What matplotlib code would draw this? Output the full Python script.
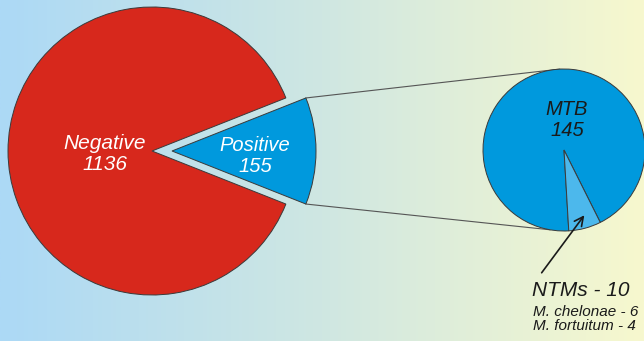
import numpy as np
import matplotlib
matplotlib.use("Agg")
from matplotlib import pyplot as plt
from matplotlib.colors import LinearSegmentedColormap

# data
main_labels = ["Negative", "Positive"]
main_values = [1136, 155]
sub_labels = ["MTB", "NTMs"]
sub_values = [145, 10]
ntm_species = ["M. chelonae", "M. fortuitum"]
ntm_counts = [6, 4]

W, H = 644, 341
plt.rcParams["font.family"] = ["Liberation Sans", "DejaVu Sans"]

fig = plt.figure(figsize=(W / 100, H / 100), dpi=100)
ax = fig.add_axes([0, 0, 1, 1])

# horizontal gradient background
bg = LinearSegmentedColormap.from_list("bg", ["#acd9f6", "#cfe7e2", "#f7f8ce"])
ax.imshow(np.linspace(0, 1, 256).reshape(1, -1), cmap=bg, aspect="auto",
          extent=(0, W, 0, H), zorder=0)

edge = dict(edgecolor="#3a3a3a", linewidth=0.7)

# big pie, positive slice pulled out and centred on 0 deg
big_c = (152, 190)
big_r = 144
pos_frac = main_values[1] / sum(main_values)
half = pos_frac * 180
pull = 20  # explode offset in data units (pixels here)
ax.pie(main_values, center=big_c, radius=big_r, startangle=half,
       colors=["#d7281c", "#0099dd"], explode=[0, pull],
       wedgeprops=edge)

# small pie (breakdown of positives)
small_c = (564, 191)
small_r = 81
ax.pie(sub_values, center=small_c, radius=small_r, startangle=-63.4,
       colors=["#0099dd", "#4cb8ec"], wedgeprops=edge)

# connector lines from the exploded wedge to the small pie
apex = (big_c[0] + pull, big_c[1])
for a_big, a_small in [(half, 93), (-half, -100)]:
    x0 = apex[0] + big_r * np.cos(np.radians(a_big))
    y0 = apex[1] + big_r * np.sin(np.radians(a_big))
    x1 = small_c[0] + small_r * np.cos(np.radians(a_small))
    y1 = small_c[1] + small_r * np.sin(np.radians(a_small))
    ax.plot([x0, x1], [y0, y1], color="#555555", lw=0.8, zorder=0.5)

# labels
ax.text(105, 187, f"{main_labels[0]}\n{main_values[0]}", color="white",
        style="italic", fontsize=15, ha="center", va="center", linespacing=1.1)
ax.text(255, 185, f"{main_labels[1]}\n{main_values[1]}", color="white",
        style="italic", fontsize=14.5, ha="center", va="center", linespacing=1.1)
ax.text(567, 221, f"{sub_labels[0]}\n{sub_values[0]}", color="#1a1a1a",
        style="italic", fontsize=14.5, ha="center", va="center", linespacing=1.1)

ax.annotate("", xy=(586, 128), xytext=(540, 66),
            arrowprops=dict(arrowstyle="->", lw=1.2, color="#1a1a1a",
                            mutation_scale=16))
ax.text(581, 51, f"{sub_labels[1]} - {sub_values[1]}", color="#1a1a1a",
        style="italic", fontsize=15, ha="center", va="center")
species = "\n".join(f"{s} - {n}" for s, n in zip(ntm_species, ntm_counts))
ax.text(533, 22, species, color="#1a1a1a", style="italic", fontsize=11,
        ha="left", va="center", linespacing=1.05)

ax.set_xlim(0, W)
ax.set_ylim(0, H)
ax.set_aspect("auto")
ax.axis("off")

fig.savefig("out.png", dpi=100)
